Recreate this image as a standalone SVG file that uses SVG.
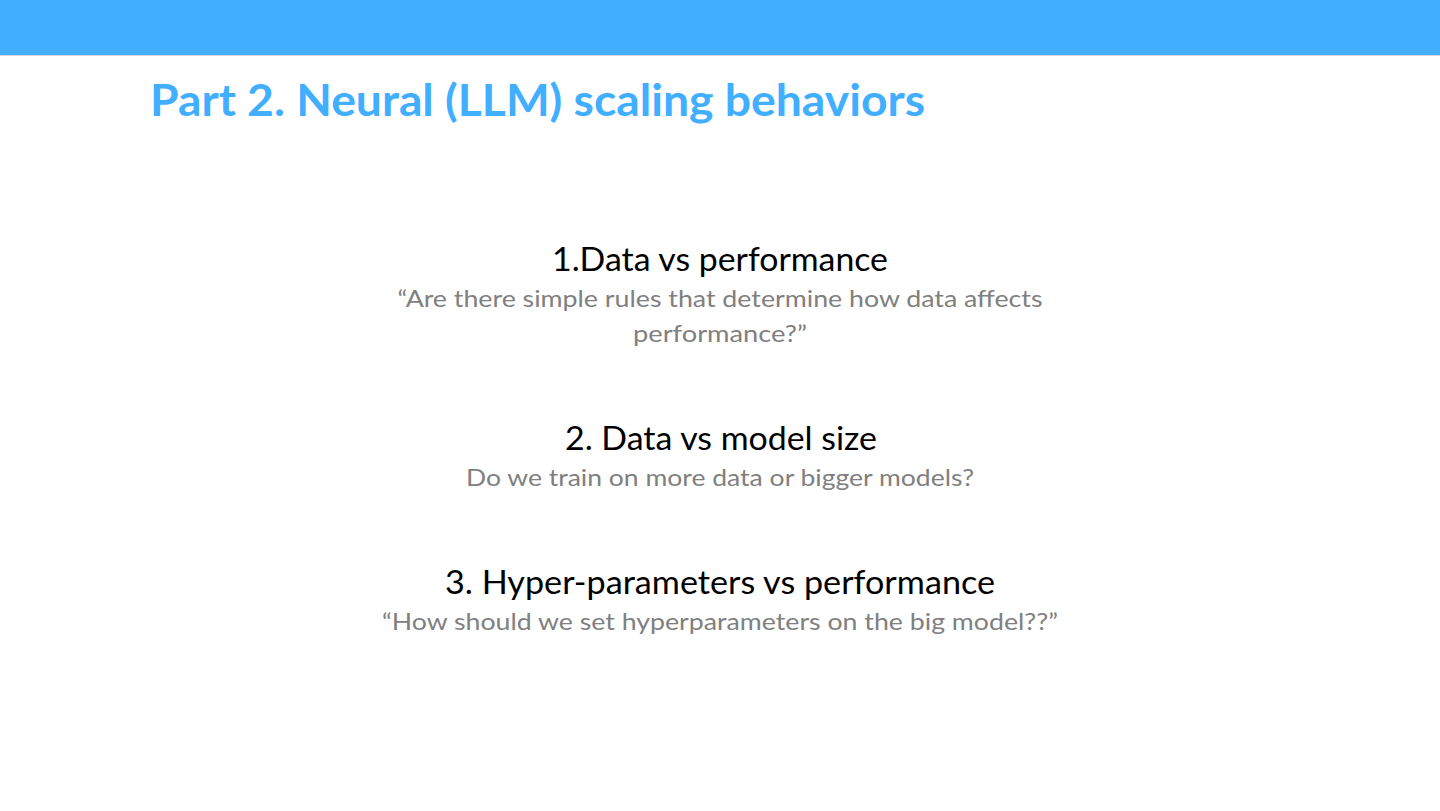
<svg xmlns="http://www.w3.org/2000/svg" width="1440" height="811" viewBox="0 0 1440 811">
<style>
.h{font-family:Lato,"Liberation Sans",sans-serif;font-size:32px;fill:#000;text-anchor:middle}
.s{font-family:Lato,"Liberation Sans",sans-serif;font-size:24px;fill:#808080;text-anchor:middle}
</style>
<rect width="1440" height="811" fill="#fff"/>
<rect x="0" y="0" width="1440" height="55" fill="#42AEFF"/>
<line x1="0" y1="55.5" x2="1440" y2="55.5" stroke="#d8d8d8" stroke-width="1"/>
<text x="150" y="116" font-family="Lato,'Liberation Sans',sans-serif" font-weight="bold" font-size="44" fill="#42AEFF" textLength="775" lengthAdjust="spacingAndGlyphs">Part 2. Neural (LLM) scaling behaviors</text>
<g id="item1">
<text class="h" x="720" y="271" textLength="336" lengthAdjust="spacingAndGlyphs">1.Data vs performance</text>
<text class="s" x="720" y="307" textLength="645" lengthAdjust="spacingAndGlyphs">“Are there simple rules that determine how data affects</text>
<text class="s" x="720" y="342" textLength="174" lengthAdjust="spacingAndGlyphs">performance?”</text>
</g>
<g id="item2">
<text class="h" x="721" y="450" textLength="312" lengthAdjust="spacingAndGlyphs">2. Data vs model size</text>
<text class="s" x="720" y="486" textLength="508" lengthAdjust="spacingAndGlyphs">Do we train on more data or bigger models?</text>
</g>
<g id="item3">
<text class="h" x="720" y="594" textLength="550" lengthAdjust="spacingAndGlyphs">3. Hyper-parameters vs performance</text>
<text class="s" x="720" y="630" textLength="676" lengthAdjust="spacingAndGlyphs">“How should we set hyperparameters on the big model??”</text>
</g>
<g id="connectors"/>
</svg>
